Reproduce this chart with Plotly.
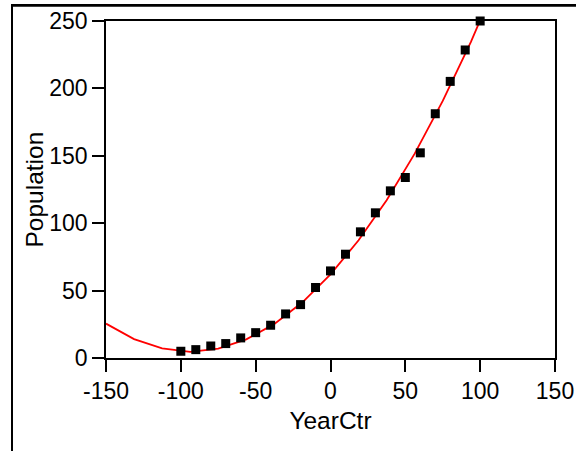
import plotly.graph_objects as go

year_ctr = [-100, -90, -80, -70, -60, -50, -40, -30, -20, -10, 0,
            10, 20, 30, 40, 50, 60, 70, 80, 90, 100]
population = [5.0, 6.2, 8.9, 10.7, 14.9, 18.8, 24.3, 32.7, 39.6, 52.3, 64.6,
              77.0, 93.6, 107.7, 124.0, 133.9, 152.2, 181.2, 205.2, 228.5, 250.0]

# Fitted curve (red polyline)
fit_x = [-150, -131.25, -112.5, -93.75, -75, -56.25, -37.5, -18.75, 0,
         18.75, 37.5, 56.25, 75, 93.75, 112.5]
fit_y = [25.5, 14.0, 7.1, 4.6, 6.9, 13.8, 25.3, 41.3, 62.0,
         87.3, 117.1, 151.6, 190.7, 234.4, 282.7]

x_ticks = [-150, -100, -50, 0, 50, 100, 150]
y_ticks = [0, 50, 100, 150, 200, 250]

FONT = "Liberation Sans, Arial, sans-serif"

fig = go.Figure()
fig.add_trace(go.Scatter(
    x=fit_x, y=fit_y, mode="lines",
    line=dict(color="#ff0000", width=1.8),
    cliponaxis=True, showlegend=False, hoverinfo="skip"))
fig.add_trace(go.Scatter(
    x=year_ctr, y=population, mode="markers",
    marker=dict(symbol="square", size=9, color="black"),
    cliponaxis=False, showlegend=False))

axis_common = dict(
    showline=True, linecolor="black", linewidth=1.6, mirror=True,
    ticks="outside", ticklen=12, tickwidth=1.6, tickcolor="black",
    showgrid=False, zeroline=False, automargin=False,
    tickfont=dict(family=FONT, size=23, color="black"),
)

fig.update_xaxes(range=[-150, 150], tickvals=x_ticks,
                 ticktext=[str(v) for v in x_ticks],
                 title=dict(text="YearCtr", font=dict(family=FONT, size=24.5, color="black"), standoff=8),
                 **axis_common)
fig.update_yaxes(range=[0, 250], tickvals=y_ticks,
                 ticktext=[str(v) for v in y_ticks],
                 **axis_common)

fig.update_layout(
    width=576, height=451,
    margin=dict(l=106, r=21, t=21, b=93, pad=0),
    plot_bgcolor="white", paper_bgcolor="white",
    font=dict(family=FONT, color="black"),
    annotations=[dict(text="Population", xref="paper", yref="paper",
                      x=-0.1603, y=0.5, xanchor="center", yanchor="middle",
                      textangle=-90, showarrow=False,
                      font=dict(family=FONT, size=24.5, color="black"))],
    shapes=[dict(type="line", xref="paper", yref="paper",
                 x0=-0.2116, x1=1.1, y0=1.046, y1=1.046,
                 line=dict(color="black", width=2.5), layer="above")],
)

# outer page frame (top and left edges visible in the reference)
post = (
    "document.body.style.margin='0px';"
    "document.documentElement.style.overflow='hidden';"
    "var f=document.createElement('div');"
    "f.style.cssText='position:fixed;left:11px;top:4px;width:800px;height:800px;"
    "border-top:2.5px solid #000;border-left:2px solid #000;pointer-events:none;z-index:10;';"
    "document.body.appendChild(f);"
)

fig.write_html("out.html", config={"displayModeBar": False}, post_script=post)
